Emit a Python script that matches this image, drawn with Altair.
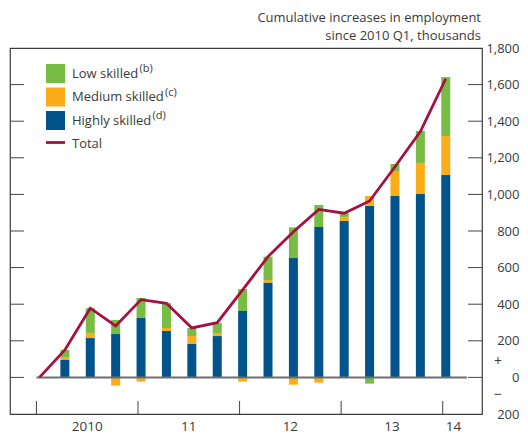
import altair as alt
import pandas as pd

# ---- data (cumulative increases since 2010 Q1, thousands) ----
quarters = ["2010 Q1", "2010 Q2", "2010 Q3", "2010 Q4",
            "2011 Q1", "2011 Q2", "2011 Q3", "2011 Q4",
            "2012 Q1", "2012 Q2", "2012 Q3", "2012 Q4",
            "2013 Q1", "2013 Q2", "2013 Q3", "2013 Q4", "2014 Q1"]
q_index = list(range(len(quarters)))
highly = [0, 95, 215, 237, 325, 254, 183, 226, 363, 518, 652, 822, 855, 937, 991, 1002, 1106]
medium = [0, 16, 28, -45, -23, 16, 43, 17, -23, 14, -40, -29, 22, 54, 137, 170, 213]
low = [0, 39, 135, 77, 109, 136, 44, 54, 120, 128, 168, 120, 21, -34, 38, 175, 322]
total = [0, 150, 378, 281, 425, 405, 270, 299, 478, 660, 796, 918, 897, 964, 1151, 1343, 1632]

year_labels = ["2010", "11", "12", "13", "14"]
year_label_pos = [1.88, 5.88, 9.88, 13.88, 16.3]
year_bounds = [-0.12, 3.88, 7.88, 11.88, 15.88]
zero_line_span = [-0.12, 16.83]
y_tick_values = [0, 200, 400, 600, 800, 1000, 1200, 1400, 1600]
y_label_values = [-200, 0, 200, 400, 600, 800, 1000, 1200, 1400, 1600, 1800]

series_names = ["Highly skilled", "Medium skilled", "Low skilled"]
series_colors = ["#00548b", "#fbad18", "#77bc43"]
line_color = "#a50f42"
legend_labels = ["Low skilled", "Medium skilled", "Highly skilled", "Total"]
legend_notes = ["(b)", "(c)", "(d)", ""]
legend_colors = ["#77bc43", "#fbad18", "#00548b", line_color]
title_lines = ["Cumulative increases in employment", "since 2010 Q1, thousands"]

FONT = "Open Sans"
TXT = "#3a3a3a"
W, H = 472, 366
RIGHT_PAD = 38

rows = []
for i, q in enumerate(q_index):
    for order, (name, vals) in enumerate(zip(series_names, [highly, medium, low])):
        rows.append({"q": q, "skill": name, "value": vals[i], "order": order})
bars_df = pd.DataFrame(rows)
line_df = pd.DataFrame({"q": q_index, "total": total})

xs = alt.Scale(domain=[-0.964, 17.23], nice=False, zero=False)
ys = alt.Scale(domain=[-200, 1800], nice=False)
y_axis = alt.Axis(orient="right", values=y_label_values, ticks=False, domain=False,
                  grid=False, labelExpr="format(abs(datum.value), ',')",
                  labelAlign="right", labelPadding=RIGHT_PAD - 1, labelFlush=False,
                  labelFont=FONT, labelFontSize=13, labelColor=TXT, title=None)


def xenc(field):
    return alt.X(field, scale=xs, axis=None)


def yenc(field):
    return alt.Y(field, scale=ys, axis=y_axis)


bars = alt.Chart(bars_df).mark_bar(size=9).encode(
    x=xenc("q:Q"),
    y=alt.Y("value:Q", stack="zero", scale=ys, axis=y_axis),
    color=alt.Color("skill:N", scale=alt.Scale(domain=series_names, range=series_colors), legend=None),
    order=alt.Order("order:Q"),
)

zero_line = alt.Chart(pd.DataFrame({"v": [0], "a": [zero_line_span[0]], "b": [zero_line_span[1]]})).mark_rule(
    color="#6e6e6e", strokeWidth=2).encode(y=yenc("v:Q"), x=xenc("a:Q"), x2="b:Q")

line = alt.Chart(line_df).mark_line(color=line_color, strokeWidth=2.8).encode(
    x=xenc("q:Q"), y=yenc("total:Q"))

ticks_df = pd.DataFrame({"v": y_tick_values})
ticks_l = alt.Chart(ticks_df).mark_rule(color="#444", strokeWidth=1).encode(
    y=yenc("v:Q"), x=alt.value(0), x2=alt.value(14))
ticks_r = alt.Chart(ticks_df).mark_rule(color="#444", strokeWidth=1).encode(
    y=yenc("v:Q"), x=alt.value(W - 14), x2=alt.value(W))

yb = alt.Chart(pd.DataFrame({"b": year_bounds})).mark_rule(color="#444", strokeWidth=1).encode(
    x=xenc("b:Q"), y=alt.value(H - 13), y2=alt.value(H))

ylab = alt.Chart(pd.DataFrame({"p": year_label_pos, "t": year_labels})).mark_text(
    font=FONT, fontSize=13.5, color=TXT, baseline="middle", align="center").encode(
    x=xenc("p:Q"), y=alt.value(H + 13), text="t:N")

plus = alt.Chart(pd.DataFrame({"t": ["+"]})).mark_text(
    font=FONT, fontSize=14, color=TXT, baseline="middle").encode(
    x=alt.value(W + 16), y=alt.value(314), text="t:N")
minus = alt.Chart(pd.DataFrame({"t": ["\u2212"]})).mark_text(
    font=FONT, fontSize=14, color=TXT, baseline="middle").encode(
    x=alt.value(W + 16), y=alt.value(347), text="t:N")

extra = []
for k, t in enumerate(title_lines):
    extra.append(alt.Chart(pd.DataFrame({"t": [t]})).mark_text(
        font=FONT, fontSize=13, color=TXT, align="right", baseline="alphabetic").encode(
        x=alt.value(W - 1), y=alt.value(-26 + 17.5 * k), text="t:N"))

sup_x = [129.5, 155, 142.5]
for k, (lab, note, col) in enumerate(zip(legend_labels, legend_notes, legend_colors)):
    cy = 25.5 + 23.5 * k
    one = pd.DataFrame({"t": [lab]})
    if lab == "Total":
        sym = alt.Chart(one).mark_rule(color=col, strokeWidth=2.8).encode(
            x=alt.value(36), x2=alt.value(55), y=alt.value(cy - 1.5))
    else:
        sym = alt.Chart(one).mark_rect(color=col).encode(
            x=alt.value(36), x2=alt.value(55), y=alt.value(cy - 9.5), y2=alt.value(cy + 9.5))
    txt = alt.Chart(one).mark_text(font=FONT, fontSize=13, color=TXT, align="left", baseline="middle").encode(
        x=alt.value(62), y=alt.value(cy), text="t:N")
    extra += [sym, txt]
    if note:
        extra.append(alt.Chart(pd.DataFrame({"t": [note]})).mark_text(
            font=FONT, fontSize=11, color=TXT, align="left", baseline="middle").encode(
            x=alt.value(sup_x[k]), y=alt.value(cy - 4.5), text="t:N"))

chart = alt.layer(
    bars, zero_line, line, ticks_l, ticks_r, yb, ylab, plus, minus, *extra
).properties(
    width=W, height=H,
    autosize=alt.AutoSizeParams(type="none"),
    padding={"left": 2, "top": 40, "right": RIGHT_PAD, "bottom": 20},
    background="white",
).configure_view(stroke="#3c3c3c", strokeWidth=1.2)

chart.save("out.html", embed_options={"renderer": "svg", "actions": False})
